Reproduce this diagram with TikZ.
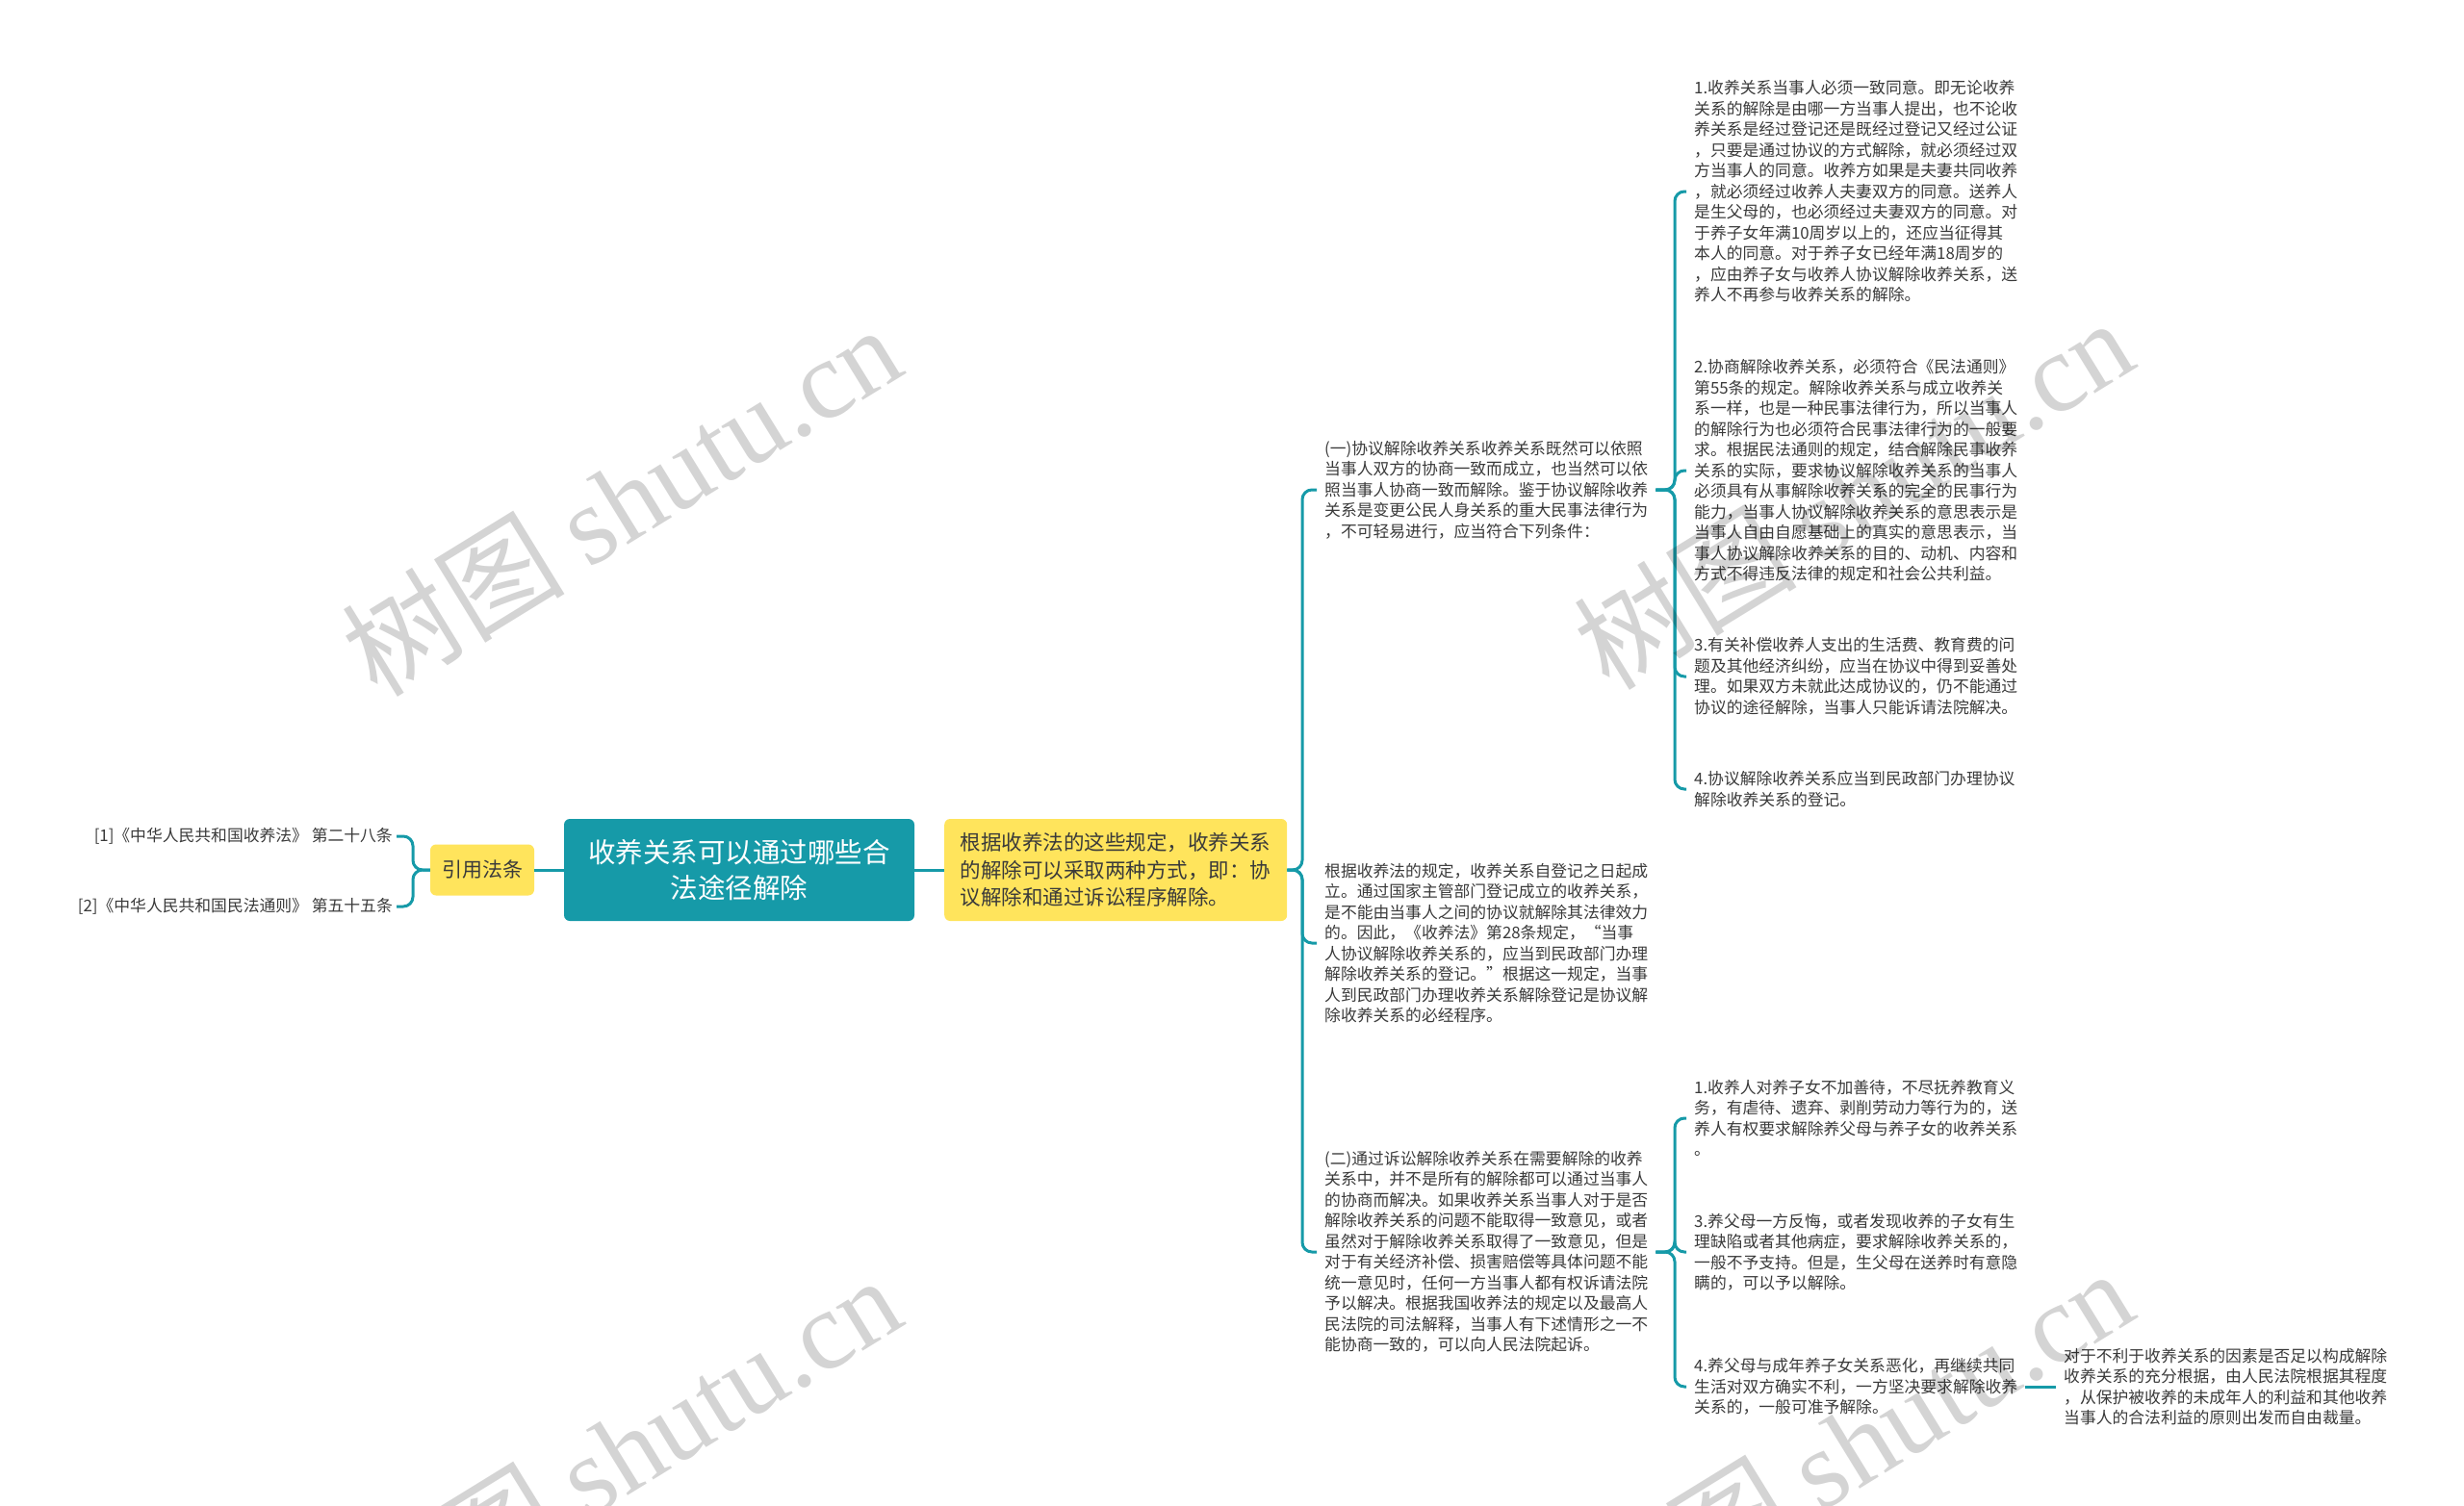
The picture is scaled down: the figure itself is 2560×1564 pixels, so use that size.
\documentclass[tikz,border=0pt]{standalone}
\usepackage{fontspec}
\setmainfont{Noto Sans CJK SC}
\newfontfamily\wmlat{Liberation Serif}
\definecolor{teal1}{HTML}{169AA8}
\definecolor{yel}{HTML}{FFE45C}
\definecolor{txt}{HTML}{3A3A3A}
\begin{document}
\begin{tikzpicture}[x=1pt,y=-1pt,
  conn/.style={draw=teal1, line width=3pt, rounded corners=10pt},
  small/.style={anchor=west, align=left, text=txt, inner xsep=8pt, inner ysep=0pt, font=\fontsize{16.8}{21.5}\selectfont},
  central/.style={fill=teal1, text=white, rounded corners=6pt, minimum width=364pt, minimum height=106pt, align=center, inner sep=0pt, font=\fontsize{28.5}{37.5}\selectfont},
  ybox/.style={fill=yel, text=txt, rounded corners=6pt, inner sep=0pt},
  wm/.style={text=black, text opacity=0.17, rotate=31.6, font=\fontsize{116}{116}\selectfont}
]
\useasboundingbox (0,0) rectangle (2560,1564);

% central and first level
\node[central] (c) at (768,904) {收养关系可以通过哪些合\\法途径解除};
\node[ybox, minimum width=108pt, minimum height=53pt, font=\fontsize{21}{26}\selectfont] (cite) at (501,904) {引用法条};
\node[ybox, anchor=west, minimum width=356pt, minimum height=106pt, align=left, inner xsep=12pt, font=\fontsize{21.5}{28.6}\selectfont] (r) at (981,904) {根据收养法的这些规定，收养关系\\的解除可以采取两种方式，即：协\\议解除和通过诉讼程序解除。};

% left leaves
\node[small, anchor=east, inner xsep=4pt] (l1) at (412,869) {[1]《中华人民共和国收养法》 第二十八条};
\node[small, anchor=east, inner xsep=4pt] (l2) at (412,942) {[2]《中华人民共和国民法通则》 第五十五条};

% second level
\node[small] (a) at (1368,509) {(一)协议解除收养关系收养关系既然可以依照\\当事人双方的协商一致而成立，也当然可以依\\照当事人协商一致而解除。鉴于协议解除收养\\关系是变更公民人身关系的重大民事法律行为\\，不可轻易进行，应当符合下列条件：};
\node[small] (b) at (1368,980) {根据收养法的规定，收养关系自登记之日起成\\立。通过国家主管部门登记成立的收养关系，\\是不能由当事人之间的协议就解除其法律效力\\的。因此，《收养法》第28条规定，“当事\\人协议解除收养关系的，应当到民政部门办理\\解除收养关系的登记。”根据这一规定，当事\\人到民政部门办理收养关系解除登记是协议解\\除收养关系的必经程序。};
\node[small] (d) at (1368,1301) {(二)通过诉讼解除收养关系在需要解除的收养\\关系中，并不是所有的解除都可以通过当事人\\的协商而解决。如果收养关系当事人对于是否\\解除收养关系的问题不能取得一致意见，或者\\虽然对于解除收养关系取得了一致意见，但是\\对于有关经济补偿、损害赔偿等具体问题不能\\统一意见时，任何一方当事人都有权诉请法院\\予以解决。根据我国收养法的规定以及最高人\\民法院的司法解释，当事人有下述情形之一不\\能协商一致的，可以向人民法院起诉。};

% third level (a)
\node[small] (a1) at (1752,199) {1.收养关系当事人必须一致同意。即无论收养\\关系的解除是由哪一方当事人提出，也不论收\\养关系是经过登记还是既经过登记又经过公证\\，只要是通过协议的方式解除，就必须经过双\\方当事人的同意。收养方如果是夫妻共同收养\\，就必须经过收养人夫妻双方的同意。送养人\\是生父母的，也必须经过夫妻双方的同意。对\\于养子女年满10周岁以上的，还应当征得其\\本人的同意。对于养子女已经年满18周岁的\\，应由养子女与收养人协议解除收养关系，送\\养人不再参与收养关系的解除。};
\node[small] (a2) at (1752,489) {2.协商解除收养关系，必须符合《民法通则》\\第55条的规定。解除收养关系与成立收养关\\系一样，也是一种民事法律行为，所以当事人\\的解除行为也必须符合民事法律行为的一般要\\求。根据民法通则的规定，结合解除民事收养\\关系的实际，要求协议解除收养关系的当事人\\必须具有从事解除收养关系的完全的民事行为\\能力，当事人协议解除收养关系的意思表示是\\当事人自由自愿基础上的真实的意思表示，当\\事人协议解除收养关系的目的、动机、内容和\\方式不得违反法律的规定和社会公共利益。};
\node[small] (a3) at (1752,703) {3.有关补偿收养人支出的生活费、教育费的问\\题及其他经济纠纷，应当在协议中得到妥善处\\理。如果双方未就此达成协议的，仍不能通过\\协议的途径解除，当事人只能诉请法院解决。};
\node[small] (a4) at (1752,820) {4.协议解除收养关系应当到民政部门办理协议\\解除收养关系的登记。};

% third level (d)
\node[small] (d1) at (1752,1162) {1.收养人对养子女不加善待，不尽抚养教育义\\务，有虐待、遗弃、剥削劳动力等行为的，送\\养人有权要求解除养父母与养子女的收养关系\\。};
\node[small] (d3) at (1752,1301) {3.养父母一方反悔，或者发现收养的子女有生\\理缺陷或者其他病症，要求解除收养关系的，\\一般不予支持。但是，生父母在送养时有意隐\\瞒的，可以予以解除。};
\node[small] (d4) at (1752,1441) {4.养父母与成年养子女关系恶化，再继续共同\\生活对双方确实不利，一方坚决要求解除收养\\关系的，一般可准予解除。};
\node[small] (e) at (2136,1441) {对于不利于收养关系的因素是否足以构成解除\\收养关系的充分根据，由人民法院根据其程度\\，从保护被收养的未成年人的利益和其他收养\\当事人的合法利益的原则出发而自由裁量。};

% bracket coordinates
\coordinate (lb) at (429,904);
\coordinate (rb) at (1353,904);
\coordinate (ab) at (1740,509);
\coordinate (db) at (1740,1301);

% connectors
\draw[conn] (c.west) -- (cite.east);
\draw[conn] (c.east) -- (r.west);
\draw[conn] (cite.west) -- (lb) |- (l1.east);
\draw[conn] (cite.west) -- (lb) |- (l2.east);
\draw[conn] (r.east) -- (rb) |- (a.west);
\draw[conn] (r.east) -- (rb) |- (b.west);
\draw[conn] (r.east) -- (rb) |- (d.west);
\draw[conn] (a.east) -- (ab) |- (a1.west);
\draw[conn] (a.east) -- (ab) |- (a2.west);
\draw[conn] (a.east) -- (ab) |- (a3.west);
\draw[conn] (a.east) -- (ab) |- (a4.west);
\draw[conn] (d.east) -- (db) |- (d1.west);
\draw[conn] (d.east) -- (db) |- (d3.west);
\draw[conn] (d.east) -- (db) |- (d4.west);
\draw[conn] (d4.east) -- (e.west);

% watermarks
\node[wm] (w1) at (645,519) {树图 {\wmlat shutu.cn}};
\node[wm] (w2) at (1925,512) {树图 {\wmlat shutu.cn}};
\node[wm] (w3) at (645,1507) {树图 {\wmlat shutu.cn}};
\node[wm] (w4) at (1925,1500) {树图 {\wmlat shutu.cn}};
\end{tikzpicture}
\end{document}
